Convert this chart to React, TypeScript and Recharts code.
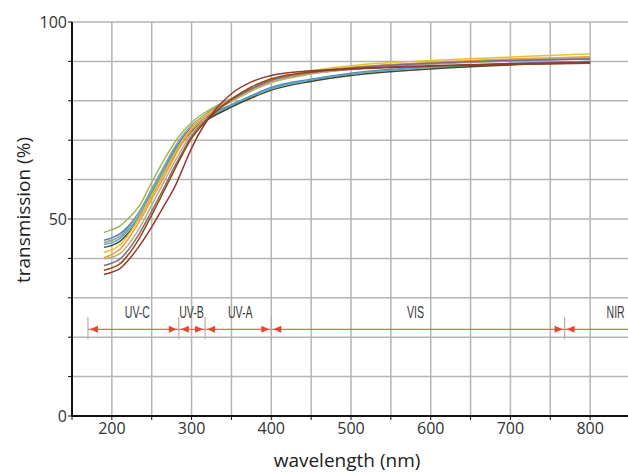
import { LineChart, Line, XAxis, YAxis, CartesianGrid, ReferenceLine, ReferenceDot, Label } from 'recharts';

// wavelength (nm) at which each curve was read
const wavelengths = [190, 200, 210, 220, 235, 250, 265, 280, 290, 300, 315, 330, 350, 375, 400, 450, 500, 600, 700, 800];

// transmission (%) per sample
const sampleGreen = [46.6, 47.3, 48.2, 50.0, 53.5, 59.3, 64.8, 69.8, 72.4, 74.5, 76.8, 78.6, 80.6, 83.0, 85.0, 87.3, 88.5, 89.6, 90.3, 90.9];
const sampleBlue = [44.6, 45.2, 46.2, 48.0, 52.0, 57.5, 63.0, 68.0, 71.0, 73.3, 75.5, 77.2, 79.0, 81.3, 83.4, 85.5, 87.0, 88.6, 89.5, 90.0];
const sampleGray = [44.0, 44.6, 45.6, 47.6, 52.0, 57.5, 63.2, 68.6, 71.5, 73.8, 76.2, 78.3, 80.5, 82.9, 84.8, 86.9, 88.0, 89.3, 90.1, 90.7];
const sampleLightBlue = [43.5, 44.0, 45.0, 47.0, 51.2, 56.8, 62.3, 67.5, 70.3, 72.7, 74.9, 76.8, 78.8, 81.1, 83.1, 85.3, 86.8, 88.5, 89.4, 90.0];
const sampleDark = [42.8, 43.3, 44.3, 46.3, 50.5, 56.0, 61.5, 66.8, 69.8, 72.3, 74.6, 76.4, 78.4, 80.7, 82.7, 84.9, 86.4, 88.1, 89.1, 89.7];
const sampleYellow = [41.5, 42.2, 43.4, 45.8, 50.5, 56.0, 61.5, 67.0, 70.3, 73.0, 75.8, 78.0, 80.4, 83.0, 85.3, 87.6, 88.9, 90.2, 91.1, 91.9];
const sampleOrange = [40.2, 41.0, 42.3, 44.8, 49.5, 55.0, 60.5, 66.3, 69.8, 72.6, 75.5, 77.9, 80.3, 83.0, 85.0, 87.2, 88.4, 89.7, 90.6, 91.2];
const sampleOlive = [39.9, 40.3, 41.2, 43.3, 47.8, 53.5, 59.3, 65.0, 68.5, 71.8, 74.8, 77.3, 79.8, 82.5, 84.6, 86.8, 88.0, 89.4, 90.3, 91.0];
const samplePurple = [38.2, 38.8, 39.8, 42.0, 46.5, 52.0, 57.8, 63.8, 67.5, 71.0, 74.5, 77.3, 80.2, 83.0, 85.2, 87.2, 88.3, 89.5, 90.2, 90.6];
const sampleBrown = [37.0, 37.6, 38.6, 40.8, 45.3, 51.0, 57.0, 63.0, 67.0, 70.5, 74.2, 77.2, 80.4, 83.5, 85.6, 87.3, 88.0, 88.8, 89.2, 89.5];
const sampleDarkRed = [35.9, 36.5, 37.4, 39.4, 43.3, 48.0, 53.2, 58.6, 63.3, 68.0, 73.6, 77.8, 81.8, 84.8, 86.4, 87.6, 88.2, 88.9, 89.4, 89.8];

const series = [
  { key: 'green', color: '#9bbb59', values: sampleGreen },
  { key: 'blue', color: '#4f81bd', values: sampleBlue },
  { key: 'gray', color: '#9a9a9a', values: sampleGray },
  { key: 'lightBlue', color: '#4bacc6', values: sampleLightBlue },
  { key: 'dark', color: '#4a452a', values: sampleDark },
  { key: 'yellow', color: '#e8c32a', values: sampleYellow },
  { key: 'orange', color: '#f79646', values: sampleOrange },
  { key: 'olive', color: '#b8b070', values: sampleOlive },
  { key: 'purple', color: '#7a6a90', values: samplePurple },
  { key: 'brown', color: '#984807', values: sampleBrown },
  { key: 'darkRed', color: '#953735', values: sampleDarkRed },
];

const xTicks = [150, 200, 250, 300, 350, 400, 450, 500, 550, 600, 650, 700, 750, 800, 850];
const yTicks = [0, 10, 20, 30, 40, 50, 60, 70, 80, 90, 100];

// spectral bands: boundaries and names
const bandEdges = [170, 284, 317, 400, 768];
const bandNames = ['UV-C', 'UV-B', 'UV-A', 'VIS', 'NIR'];
const bandLabelX = [232, 300, 361, 581, 832];
const bandLevel = 22;

const data = wavelengths.map((wl, i) => {
  const row: Record<string, number> = { wl };
  series.forEach((s) => {
    row[s.key] = s.values[i];
  });
  return row;
});

const font = "'Open Sans', 'DejaVu Sans', sans-serif";
const red = '#e8452c';

const arrow = (dir: 'left' | 'right') => (props: any) => {
  const { cx, cy } = props;
  const len = 8;
  const half = 3.5;
  const pts =
    dir === 'left'
      ? `${cx},${cy} ${cx + len},${cy - half} ${cx + len},${cy + half}`
      : `${cx},${cy} ${cx - len},${cy - half} ${cx - len},${cy + half}`;
  return <polygon points={pts} fill={red} />;
};

// narrow, tightly set band names
const bandText = (text: string) => (props: any) => (
  <text
    transform={`translate(${props.cx} ${props.cy}) scale(0.66 1)`}
    x={0}
    y={0}
    textAnchor="middle"
    dominantBaseline="central"
    fontFamily="'Liberation Sans', Arial, sans-serif"
    fontSize={16}
    fill="#3a3a3a"
  >
    {text}
  </text>
);

// arrow tips sit just beside each boundary bar
const tipGap = 2;

export default function App() {
  return (
    <div style={{ position: 'absolute', left: 8, top: 8, width: 620, height: 464, overflow: 'hidden' }}>
      <LineChart
        width={650}
        height={464}
        data={data}
        margin={{ top: 14, right: 28, left: 14, bottom: 16 }}
      >
        <CartesianGrid stroke="#b5b5b5" strokeWidth={1.5} />
        <XAxis
          dataKey="wl"
          type="number"
          domain={[150, 850]}
          ticks={xTicks}
          interval={0}
          height={40}
          tickSize={4}
          tickMargin={3}
          axisLine={{ stroke: '#111', strokeWidth: 2 }}
          tickLine={{ stroke: '#111' }}
          tick={{ fill: '#333', fontSize: 16, fontFamily: font }}
          tickFormatter={(v: number) => (v % 100 === 0 && v >= 200 && v <= 800 ? String(v) : '')}
        >
          <Label
            content={({ viewBox }: any) => (
              <text
                x={viewBox.x + viewBox.width / 2 - 4}
                y={viewBox.y + viewBox.height + 11}
                textAnchor="middle"
                fontFamily={font}
                fontSize={19}
                fill="#222"
              >
                wavelength (nm)
              </text>
            )}
          />
        </XAxis>
        <YAxis
          type="number"
          domain={[0, 100]}
          ticks={yTicks}
          interval={0}
          width={50}
          tickSize={4}
          tickMargin={1}
          axisLine={{ stroke: '#111', strokeWidth: 2 }}
          tickLine={{ stroke: '#111' }}
          tick={{ fill: '#333', fontSize: 16, fontFamily: font }}
          tickFormatter={(v: number) => (v % 50 === 0 ? String(v) : '')}
        >
          <Label
            content={({ viewBox }: any) => {
              const x = viewBox.x + 8;
              const y = viewBox.y + viewBox.height / 2 - 9;
              return (
                <text
                  x={x}
                  y={y}
                  transform={`rotate(-90 ${x} ${y})`}
                  textAnchor="middle"
                  fontFamily={font}
                  fontSize={19}
                  fill="#222"
                >
                  transmission (%)
                </text>
              );
            }}
          />
        </YAxis>

        <ReferenceLine
          segment={[{ x: bandEdges[0], y: bandLevel }, { x: 850, y: bandLevel }]}
          stroke="#e06a52"
          strokeWidth={1.2}
        />
        {bandEdges.map((b) => (
          <ReferenceLine
            key={`edge-${b}`}
            segment={[{ x: b, y: 19.4 }, { x: b, y: 25.1 }]}
            stroke="#c9a79b"
            strokeWidth={1.2}
          />
        ))}
        {bandEdges.map((b) => (
          <ReferenceDot
            key={`al-${b}`}
            x={b}
            y={bandLevel}
            r={0}
            shape={(p: any) => arrow('left')({ ...p, cx: p.cx + tipGap })}
          />
        ))}
        {bandEdges.slice(1).map((b) => (
          <ReferenceDot
            key={`ar-${b}`}
            x={b}
            y={bandLevel}
            r={0}
            shape={(p: any) => arrow('right')({ ...p, cx: p.cx - tipGap })}
          />
        ))}
        {bandNames.map((n, i) => (
          <ReferenceDot key={n} x={bandLabelX[i]} y={26.1} r={0} shape={bandText(n)} />
        ))}

        {series.map((s) => (
          <Line
            key={s.key}
            type="monotone"
            dataKey={s.key}
            stroke={s.color}
            strokeWidth={1.5}
            dot={false}
            isAnimationActive={false}
          />
        ))}
      </LineChart>
    </div>
  );
}
